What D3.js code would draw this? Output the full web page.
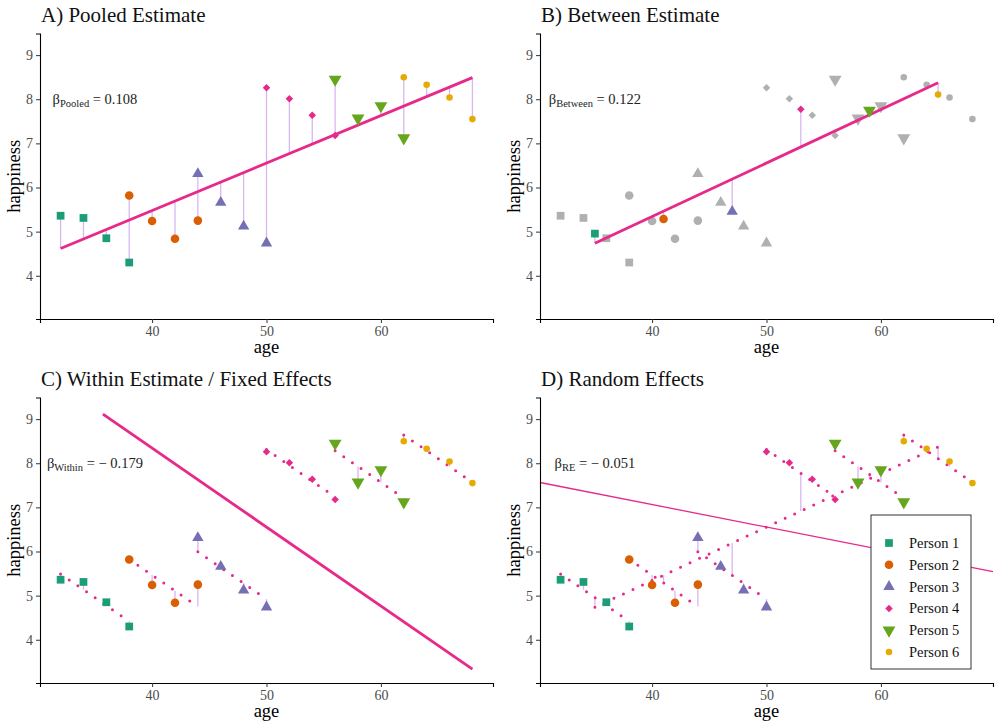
<!DOCTYPE html>
<html>
<head>
<meta charset="utf-8">
<script src="https://cdn.jsdelivr.net/npm/d3@7"></script>
<style>
  body { margin: 0; background: #fff; }
  svg, svg text { font-family: "Liberation Serif", "Times New Roman", serif; }
</style>
</head>
<body>
<svg id="chart" width="1000" height="728"></svg>
<script>
// data
var persons = ["Person 1", "Person 2", "Person 3", "Person 4", "Person 5", "Person 6"];
var personColors = ["#1b9e77", "#d95f02", "#7570b3", "#e7298a", "#66a61e", "#e6ab02"];
var ages = [
  [32, 34, 36, 38],
  [38, 40, 42, 44],
  [44, 46, 48, 50],
  [50, 52, 54, 56],
  [56, 58, 60, 62],
  [62, 64, 66, 68]
];
var happiness = [
  [5.36, 5.31, 4.85, 4.30],
  [5.82, 5.24, 4.84, 5.25],
  [6.31, 5.66, 5.12, 4.74],
  [8.26, 8.01, 7.64, 7.18],
  [8.45, 7.57, 7.85, 7.12],
  [8.50, 8.33, 8.04, 7.55]
];
var xTicks = [40, 50, 60];
var yTicks = [4, 5, 6, 7, 8, 9];
var panelTitles = ["A) Pooled Estimate", "B) Between Estimate", "C) Within Estimate / Fixed Effects", "D) Random Effects"];
var betaNames = ["Pooled", "Between", "Within", "RE"];
var betaTexts = [" = 0.108", " = 0.122", " = \u2212 0.179", " = \u2212 0.051"];
var betaRE = -0.051;        // random effects estimate (not computable here)
var withinLineFrom = 35.7;  // C) line starts here in the reference

var lineColor = "#e7298a", residColor = "#d9b6f0", grayPt = "#b0b0b0";
var serif = "Liberation Serif, Times New Roman, serif";

// model fits
var points = [];
ages.forEach(function (a, p) {
  a.forEach(function (v, j) { points.push({p: p, age: v, y: happiness[p][j]}); });
});
var means = ages.map(function (a, p) {
  return {p: p, age: d3.mean(a), y: d3.mean(happiness[p])};
});
function ols(pts) {
  var mx = d3.mean(pts, function (d) { return d.age; }), my = d3.mean(pts, function (d) { return d.y; });
  var sxy = d3.sum(pts, function (d) { return (d.age - mx) * (d.y - my); });
  var sxx = d3.sum(pts, function (d) { return (d.age - mx) * (d.age - mx); });
  var b = sxy / sxx;
  return {b: b, f: function (v) { return my + b * (v - mx); }};
}
var pooled = ols(points);
var between = ols(means);
var bW = d3.sum(points, function (d) { var m = means[d.p]; return (d.age - m.age) * (d.y - m.y); }) /
         d3.sum(points, function (d) { var m = means[d.p]; return (d.age - m.age) * (d.age - m.age); });
function withinFit(p, v) { return means[p].y + bW * (v - means[p].age); }
var grandMean = d3.mean(points, function (d) { return d.y; });
var grandAge = d3.mean(points, function (d) { return d.age; });

// layout
var pw = 500, ph = 364;
var mLeft = 40, mRight = 493, mTop = 33.5, mBottom = 319;
var x = d3.scaleLinear().domain([30.2, 69.8]).range([mLeft, mRight]);
var y = d3.scaleLinear().domain([3.02, 9.49]).range([mBottom, mTop]);

var symbolSizes = [60, 58, 56, 28, 72, 34];
function symbolPath(p) {
  var t = [d3.symbolSquare, d3.symbolCircle, d3.symbolTriangle, d3.symbolSquare, d3.symbolTriangle, d3.symbolCircle][p];
  return d3.symbol().type(t).size(symbolSizes[p])();
}
function symbolRotate(p) { return p === 3 ? " rotate(45)" : p === 4 ? " rotate(180)" : ""; }

var svg = d3.select("#chart").attr("font-family", serif);

function drawPoints(g, data, colorFn) {
  g.selectAll(null).data(data).enter().append("path")
    .attr("d", function (d) { return symbolPath(d.p); })
    .attr("transform", function (d) { return "translate(" + x(d.age) + "," + y(d.y) + ")" + symbolRotate(d.p); })
    .attr("fill", colorFn);
}
function drawResid(g, data, fitFn) {
  g.selectAll(null).data(data).enter().append("line")
    .attr("x1", function (d) { return x(d.age); }).attr("x2", function (d) { return x(d.age); })
    .attr("y1", function (d) { return y(d.y); }).attr("y2", function (d) { return y(fitFn(d)); })
    .attr("stroke", residColor).attr("stroke-width", 1.3);
}
function drawSeg(g, x0, x1, f, opts) {
  var l = g.append("line")
    .attr("x1", x(x0)).attr("x2", x(x1)).attr("y1", y(f(x0))).attr("y2", y(f(x1)))
    .attr("stroke", lineColor).attr("stroke-width", opts.width || 2.8);
  if (opts.dotted) l.attr("stroke-dasharray", "0,10.5").attr("stroke-linecap", "round").attr("stroke-width", 3);
  return l;
}

function drawFrame(g, i) {
  g.append("text").attr("x", 41).attr("y", 22).attr("font-size", 21).attr("fill", "#111").text(panelTitles[i]);
  var ax = g.append("g").attr("transform", "translate(0," + mBottom + ")")
    .call(d3.axisBottom(x).tickValues(xTicks).tickSize(4).tickPadding(3));
  var ay = g.append("g").attr("transform", "translate(" + mLeft + ",0)")
    .call(d3.axisLeft(y).tickValues(yTicks).tickFormat(d3.format("d")).tickSize(4).tickPadding(3));
  [ax, ay].forEach(function (a) {
    a.attr("font-family", serif).attr("font-size", 14);
    a.select(".domain").attr("stroke", "#000").attr("stroke-width", 1.1);
    a.selectAll(".tick line").attr("stroke", "#333");
    a.selectAll(".tick text").attr("fill", "#4d4d4d");
  });
  g.append("text").attr("x", (mLeft + mRight) / 2).attr("y", 353).attr("text-anchor", "middle")
    .attr("font-size", 18.5).text("age");
  g.append("text").attr("transform", "translate(20," + (mTop + mBottom) / 2 + ") rotate(-90)")
    .attr("text-anchor", "middle").attr("font-size", 18.5).text("happiness");
  var bt = g.append("text").attr("x", x(35)).attr("y", y(8) + 5).attr("text-anchor", "middle")
    .attr("font-size", 14.5).attr("fill", "#222");
  bt.append("tspan").text("\u03b2");
  bt.append("tspan").attr("font-size", 10.5).attr("dy", 3).text(betaNames[i]);
  bt.append("tspan").attr("dy", -3).text(betaTexts[i]);
}

var panels = [0, 1, 2, 3].map(function (i) {
  return svg.append("g").attr("transform", "translate(" + (i % 2) * pw + "," + Math.floor(i / 2) * ph + ")");
});

// A) pooled
(function (g) {
  drawResid(g, points, function (d) { return pooled.f(d.age); });
  drawSeg(g, 32, 68, pooled.f, {});
  drawPoints(g, points, function (d) { return personColors[d.p]; });
  drawFrame(g, 0);
})(panels[0]);

// B) between
(function (g) {
  drawPoints(g, points, function () { return grayPt; });
  drawResid(g, means, function (d) { return between.f(d.age); });
  drawSeg(g, 35, 65, between.f, {});
  drawPoints(g, means, function (d) { return personColors[d.p]; });
  drawFrame(g, 1);
})(panels[1]);

// C) within
(function (g) {
  drawResid(g, points, function (d) { return withinFit(d.p, d.age); });
  ages.forEach(function (a, p) {
    drawSeg(g, a[0], a[a.length - 1], function (v) { return withinFit(p, v); }, {dotted: true});
  });
  drawSeg(g, withinLineFrom, 68, function (v) { return grandMean + bW * (v - grandAge); }, {});
  drawPoints(g, points, function (d) { return personColors[d.p]; });
  drawFrame(g, 2);
})(panels[2]);

// D) random effects
(function (g) {
  drawResid(g, points, function (d) { return withinFit(d.p, d.age); });
  drawResid(g, means, function (d) { return between.f(d.age); });
  drawSeg(g, 35, 65, between.f, {dotted: true});
  ages.forEach(function (a, p) {
    drawSeg(g, a[0], a[a.length - 1], function (v) { return withinFit(p, v); }, {dotted: true});
  });
  drawSeg(g, 30.2, 69.8, function (v) { return grandMean + betaRE * (v - grandAge); }, {width: 1.3});
  drawPoints(g, points, function (d) { return personColors[d.p]; });
  drawFrame(g, 3);

  // legend
  var lg = g.append("g").attr("transform", "translate(371,151)");
  lg.append("rect").attr("width", 100).attr("height", 154).attr("fill", "#fff")
    .attr("stroke", "#333").attr("stroke-width", 1);
  persons.forEach(function (name, p) {
    var yy = 28 + p * 21.8;
    lg.append("path").attr("d", symbolPath(p))
      .attr("transform", "translate(18," + yy + ")" + symbolRotate(p)).attr("fill", personColors[p]);
    lg.append("text").attr("x", 38).attr("y", yy + 5).attr("font-size", 14.5).attr("fill", "#111").text(name);
  });
})(panels[3]);
</script>
</body>
</html>
